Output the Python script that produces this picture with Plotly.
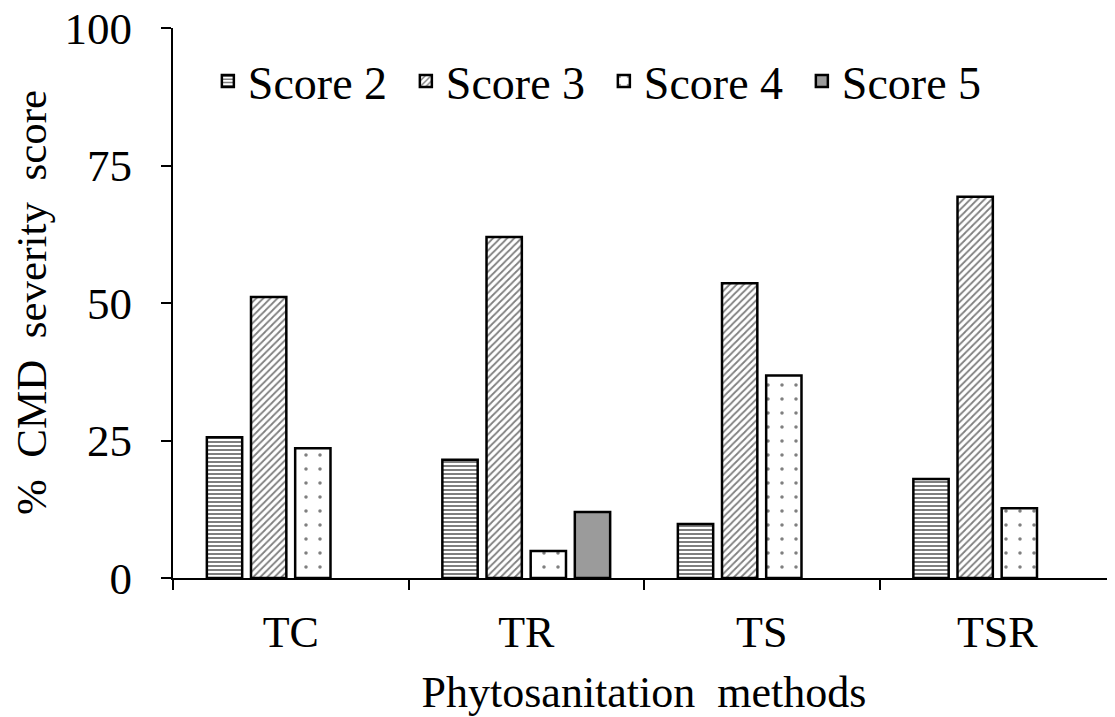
import plotly.graph_objects as go

categories = ["TC", "TR", "TS", "TSR"]
score2 = [25.6, 21.5, 9.8, 18.0]
score3 = [51.1, 62.0, 53.6, 69.3]
score4 = [23.6, 4.9, 36.8, 12.7]
score5 = [None, 12.0, None, None]
series_names = ["Score 2", "Score 3", "Score 4", "Score 5"]
y_ticks = [0, 25, 50, 75, 100]

styles = [
    dict(shape="-", bg="white", fg="black", size=4, solidity=0.5),
    dict(shape="/", bg="white", fg="black", size=5, solidity=0.35),
    dict(shape=".", bg="white", fg="black", size=14, solidity=0.05),
    dict(shape="", bg="#9b9b9b", fg="#9b9b9b", size=8, solidity=0.2),
]

fig = go.Figure()
for name, vals, st in zip(series_names, [score2, score3, score4, score5], styles):
    fig.add_trace(go.Bar(
        x=categories, y=vals, name=name,
        marker=dict(
            color=st["bg"],
            line=dict(color="black", width=2.5),
            pattern=dict(shape=st["shape"], fgcolor=st["fg"], bgcolor=st["bg"],
                         size=st["size"], solidity=st["solidity"], fillmode="overlay"),
        ),
    ))

font_family = "Liberation Serif, Times New Roman, serif"
NB = "\u00a0"
fig.update_layout(
    width=1107, height=709,
    paper_bgcolor="white", plot_bgcolor="white",
    barmode="group", bargap=0.25, bargroupgap=0.2,
    margin=dict(l=165, r=0, t=20, b=139),
    font=dict(family=font_family, size=44, color="black"),
    legend=dict(orientation="h", x=0.037, y=0.97, xanchor="left", yanchor="top",
                font=dict(size=46), bgcolor="rgba(0,0,0,0)", itemwidth=30,
                entrywidth=153, entrywidthmode="pixels",
                traceorder="normal", tracegroupgap=0),
    xaxis=dict(
        automargin=False,
        showline=True, linecolor="black", linewidth=2,
        ticks="outside", tickson="boundaries", ticklen=10, tickcolor="black", tickwidth=2,
        title=dict(text="Phytosanitation" + NB * 2 + "methods", font=dict(size=44), standoff=26),
        tickfont=dict(size=44), showgrid=False, ticklabelstandoff=14,
    ),
    yaxis=dict(
        automargin=False,
        range=[0, 100], tickvals=y_ticks,
        showline=True, linecolor="black", linewidth=2,
        ticks="outside", ticklen=10, tickcolor="black", tickwidth=2,
        tickfont=dict(size=45), showgrid=False, zeroline=False, ticklabelstandoff=20,
        ticklabeloverflow="allow",
    ),
    annotations=[dict(
        text="%" + NB * 2 + "CMD" + NB * 2 + "severity" + NB * 2 + "score",
        xref="paper", yref="paper", x=-(165 - 23) / 942, y=0.5,
        xanchor="center", yanchor="middle", textangle=-90, showarrow=False,
        font=dict(size=43),
    )],
)

fig.write_html("out.html")
